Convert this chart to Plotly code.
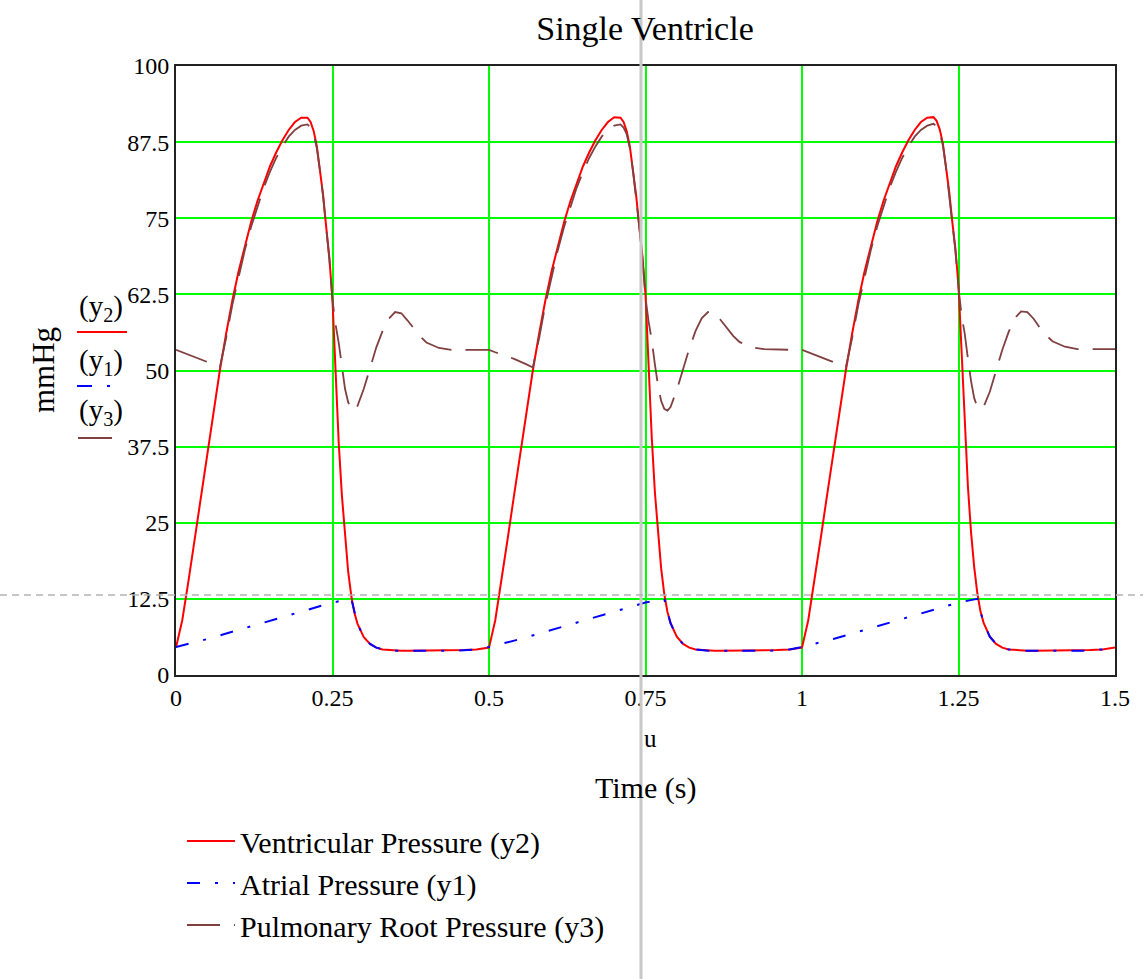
import plotly.graph_objects as go

# ---------------- data ----------------
t_vent = [
    0.00, 0.01, 0.02, 0.03, 0.04, 0.05, 0.06, 0.07, 0.08, 0.09, 0.10, 0.11, 0.12, 0.13, 0.14, 0.15,
    0.16, 0.17, 0.18, 0.19, 0.20, 0.21, 0.215, 0.22, 0.225, 0.23, 0.235, 0.24, 0.245, 0.25, 0.255,
    0.26, 0.265, 0.27, 0.275, 0.28, 0.285, 0.29, 0.30, 0.31, 0.32, 0.33, 0.34, 0.35, 0.36, 0.37,
    0.38, 0.39, 0.40, 0.42, 0.44, 0.46, 0.48,
    0.50, 0.51, 0.52, 0.53, 0.54, 0.55, 0.56, 0.57, 0.58, 0.59, 0.60, 0.61, 0.62, 0.63, 0.64, 0.65,
    0.66, 0.67, 0.68, 0.69, 0.70, 0.71, 0.715, 0.72, 0.725, 0.73, 0.735, 0.74, 0.745, 0.75, 0.755,
    0.76, 0.765, 0.77, 0.775, 0.78, 0.785, 0.79, 0.80, 0.81, 0.82, 0.83, 0.84, 0.85, 0.86, 0.87,
    0.88, 0.89, 0.90, 0.92, 0.94, 0.96, 0.98,
    1.00, 1.01, 1.02, 1.03, 1.04, 1.05, 1.06, 1.07, 1.08, 1.09, 1.10, 1.11, 1.12, 1.13, 1.14, 1.15,
    1.16, 1.17, 1.18, 1.19, 1.20, 1.21, 1.215, 1.22, 1.225, 1.23, 1.235, 1.24, 1.245, 1.25, 1.255,
    1.26, 1.265, 1.27, 1.275, 1.28, 1.285, 1.29, 1.30, 1.31, 1.32, 1.33, 1.34, 1.35, 1.36, 1.37,
    1.38, 1.39, 1.40, 1.42, 1.44, 1.46, 1.48, 1.50,
]

ventricular_y2 = [
    4.5, 9.0, 15.5, 22.5, 29.5, 36.5, 43.5, 50.0, 56.0, 61.5, 66.3, 70.6, 74.4, 77.8, 80.8, 83.5,
    85.8, 87.8, 89.5, 90.8, 91.5, 91.5, 90.8, 89.3, 86.8, 83.0, 78.8, 73.5, 68.5, 61.5, 49.0,
    38.0, 29.5, 22.5, 17.0, 13.0, 10.2, 8.4, 6.2, 5.1, 4.5, 4.2, 4.1, 4.0, 4.0, 4.0,
    4.0, 4.0, 4.0, 4.0, 4.0, 4.1, 4.2,
    4.5, 9.0, 15.5, 22.5, 29.5, 36.5, 43.5, 50.0, 56.0, 61.5, 66.3, 70.6, 74.4, 77.8, 80.8, 83.5,
    85.8, 87.8, 89.5, 90.8, 91.6, 91.5, 90.8, 89.3, 86.8, 83.0, 78.8, 73.8, 68.8, 62.5, 50.5,
    39.0, 30.0, 23.0, 17.5, 13.3, 10.4, 8.5, 6.3, 5.1, 4.5, 4.2, 4.1, 4.0, 4.0, 4.0,
    4.0, 4.0, 4.0, 4.0, 4.0, 4.1, 4.2,
    4.5, 9.0, 15.5, 22.5, 29.5, 36.5, 43.5, 50.0, 56.0, 61.5, 66.3, 70.6, 74.4, 77.8, 80.8, 83.5,
    85.8, 87.8, 89.5, 90.8, 91.5, 91.6, 91.0, 89.6, 87.3, 83.6, 79.5, 74.5, 70.0, 64.0, 52.5,
    40.5, 31.0, 23.5, 17.8, 13.5, 10.5, 8.6, 6.3, 5.1, 4.5, 4.2, 4.1, 4.0, 4.0, 4.0,
    4.0, 4.0, 4.0, 4.0, 4.0, 4.1, 4.2, 4.5,
]

pulmonary_y3 = [
    53.4, 53.0, 52.7, 52.3, 51.9, 51.5, 51.0, 50.5, 55.3, 60.8, 65.5, 69.8, 73.6, 77.0, 80.0, 82.6,
    84.9, 86.8, 88.4, 89.5, 90.2, 90.4, 89.9, 88.8, 86.5, 82.8, 78.6, 73.3, 68.3, 61.5, 57.5,
    54.5, 50.5, 47.0, 44.8, 43.6, 43.4, 44.2, 47.0, 50.5, 53.8, 56.5, 58.5, 59.6, 59.4, 58.2,
    56.8, 55.6, 54.6, 53.7, 53.4, 53.4, 53.4,
    53.4, 53.0, 52.7, 52.3, 51.9, 51.5, 51.0, 50.5, 55.3, 60.8, 65.5, 69.8, 73.6, 77.0, 80.0, 82.6,
    84.9, 86.8, 88.4, 89.5, 90.2, 90.4, 89.9, 88.8, 86.5, 82.8, 78.6, 73.6, 68.6, 62.0, 58.0,
    55.0, 51.0, 47.5, 45.0, 43.7, 43.4, 44.0, 46.8, 50.3, 53.6, 56.5, 58.6, 59.6, 59.5, 58.3,
    56.9, 55.7, 54.7, 53.8, 53.5, 53.4, 53.4,
    53.4, 53.0, 52.7, 52.3, 51.9, 51.5, 51.0, 50.5, 55.3, 60.8, 65.5, 69.8, 73.6, 77.0, 80.0, 82.6,
    84.9, 86.8, 88.4, 89.5, 90.2, 90.5, 90.1, 89.1, 87.0, 83.4, 79.3, 74.3, 69.8, 63.5, 59.0,
    56.0, 52.0, 48.3, 45.5, 44.0, 43.6, 44.0, 46.5, 50.0, 53.4, 56.3, 58.6, 59.7, 59.6, 58.5,
    57.0, 55.8, 54.8, 53.9, 53.5, 53.5, 53.5, 53.5,
]

t_atrial = [
    0.00, 0.05, 0.10, 0.15, 0.20, 0.25, 0.28, 0.285, 0.29, 0.30, 0.31, 0.32, 0.33, 0.35, 0.40, 0.45, 0.48,
    0.50, 0.55, 0.60, 0.65, 0.70, 0.75, 0.78, 0.785, 0.79, 0.80, 0.81, 0.82, 0.83, 0.85, 0.90, 0.95, 0.98,
    1.00, 1.05, 1.10, 1.15, 1.20, 1.25, 1.28, 1.285, 1.29, 1.30, 1.31, 1.32, 1.33, 1.35, 1.40, 1.45, 1.48, 1.50,
]
atrial_y1 = [
    4.6, 5.9, 7.4, 8.9, 10.4, 11.9, 12.5, 10.2, 8.4, 6.2, 5.1, 4.5, 4.2, 4.0, 4.0, 4.0, 4.2,
    4.6, 5.9, 7.4, 8.9, 10.4, 11.9, 12.5, 10.4, 8.5, 6.3, 5.1, 4.5, 4.2, 4.0, 4.0, 4.0, 4.2,
    4.6, 5.9, 7.4, 8.9, 10.4, 11.9, 12.5, 10.5, 8.6, 6.3, 5.1, 4.5, 4.2, 4.0, 4.0, 4.0, 4.2, 4.5,
]

x_tickvals = [0, 0.25, 0.5, 0.75, 1, 1.25, 1.5]
x_ticktext = ["0", "0.25", "0.5", "0.75", "1", "1.25", "1.5"]
y_tickvals = [0, 12.5, 25, 37.5, 50, 62.5, 75, 87.5, 100]
y_ticktext = ["0", "12.5", "25", "37.5", "50", "62.5", "75", "87.5", "100"]

names = ["Ventricular Pressure (y2)", "Atrial Pressure (y1)", "Pulmonary Root Pressure (y3)"]

# ---------------- figure ----------------
SERIF = "Liberation Serif, Times New Roman, serif"
RED, BLUE, BROWN = "#FF0000", "#0000FF", "#804040"
W, H = 1143, 979
L, R, T, B = 176, 28, 66, 304
pw, ph = W - L - R, H - T - B


def px_x(px):
    return (px - L) / pw


def px_y(py):
    return (H - B - py) / ph


fig = go.Figure()
fig.add_trace(go.Scatter(x=t_vent, y=ventricular_y2, mode="lines", name=names[0],
                         line=dict(color=RED, width=2)))
fig.add_trace(go.Scatter(x=t_atrial, y=atrial_y1, mode="lines", name=names[1],
                         line=dict(color=BLUE, width=2, dash="13px,15px,3px,15px")))
fig.add_trace(go.Scatter(x=t_vent, y=pulmonary_y3, mode="lines", name=names[2],
                         line=dict(color=BROWN, width=1.8, dash="33px,14px")))

fig.update_layout(
    width=W, height=H,
    margin=dict(l=L, r=R, t=T, b=B),
    paper_bgcolor="white", plot_bgcolor="white",
    font=dict(family=SERIF, color="black", size=24),
    title=dict(text="Single Ventricle", x=645 / W, xanchor="center",
               y=1 - 28 / H, yanchor="middle", yref="container",
               font=dict(family=SERIF, size=34, color="black")),
    showlegend=True,
    legend=dict(x=px_x(182), y=px_y(815), xanchor="left", yanchor="top",
                font=dict(family=SERIF, size=30, color="black"),
                bgcolor="rgba(0,0,0,0)", itemwidth=48, traceorder="normal"),
)

fig.update_xaxes(range=[0, 1.5], tickmode="array", tickvals=x_tickvals, ticktext=x_ticktext,
                 showgrid=True, gridcolor="#00FF00", gridwidth=2, zeroline=False,
                 showline=True, linecolor="#222222", linewidth=2, mirror=True, ticks="",
                 tickfont=dict(family=SERIF, size=24, color="black"))
fig.update_yaxes(range=[0, 100], tickmode="array", tickvals=y_tickvals, ticktext=y_ticktext,
                 showgrid=True, gridcolor="#00FF00", gridwidth=2, zeroline=False,
                 showline=True, linecolor="#222222", linewidth=2, mirror=True, ticks="",
                 tickfont=dict(family=SERIF, size=24, color="black"))

ann = [
    dict(text="u", x=px_x(650), y=px_y(738), size=25),
    dict(text="Time (s)", x=px_x(645), y=px_y(788), size=30),
    dict(text="mmHg", x=px_x(44), y=px_y(370), size=31, angle=-90),
    dict(text="(y<sub>2</sub>)", x=px_x(101), y=px_y(308), size=29),
    dict(text="(y<sub>1</sub>)", x=px_x(101), y=px_y(362), size=29),
    dict(text="(y<sub>3</sub>)", x=px_x(101), y=px_y(412), size=29),
]
for a in ann:
    fig.add_annotation(text=a["text"], x=a["x"], y=a["y"], xref="paper", yref="paper",
                       xanchor="center", yanchor="middle", showarrow=False,
                       textangle=a.get("angle", 0),
                       font=dict(family=SERIF, size=a.get("size", 19), color="black"))

# little line keys under the y-expressions
fig.add_shape(type="line", xref="paper", yref="paper", x0=px_x(77), x1=px_x(127),
              y0=px_y(332), y1=px_y(332), line=dict(color=RED, width=2))
fig.add_shape(type="line", xref="paper", yref="paper", x0=px_x(77), x1=px_x(92),
              y0=px_y(386), y1=px_y(386), line=dict(color=BLUE, width=2))
fig.add_shape(type="line", xref="paper", yref="paper", x0=px_x(107), x1=px_x(110),
              y0=px_y(386), y1=px_y(386), line=dict(color=BLUE, width=2))
fig.add_shape(type="line", xref="paper", yref="paper", x0=px_x(78), x1=px_x(112),
              y0=px_y(438), y1=px_y(438), line=dict(color=BROWN, width=2))

# cursor cross-hair lines
fig.add_shape(type="line", xref="paper", yref="paper", x0=px_x(641), x1=px_x(641),
              y0=px_y(H), y1=px_y(0), line=dict(color="#C8C8C8", width=3), layer="above")
fig.add_shape(type="line", xref="paper", yref="paper", x0=px_x(0), x1=px_x(W),
              y0=px_y(595), y1=px_y(595), line=dict(color="#B4B4B4", width=1.5, dash="7px,5px"),
              layer="above")

fig.write_html("out.html", config={"displayModeBar": False},
               post_script="document.body.style.margin='0px';document.body.style.overflow='hidden';")
